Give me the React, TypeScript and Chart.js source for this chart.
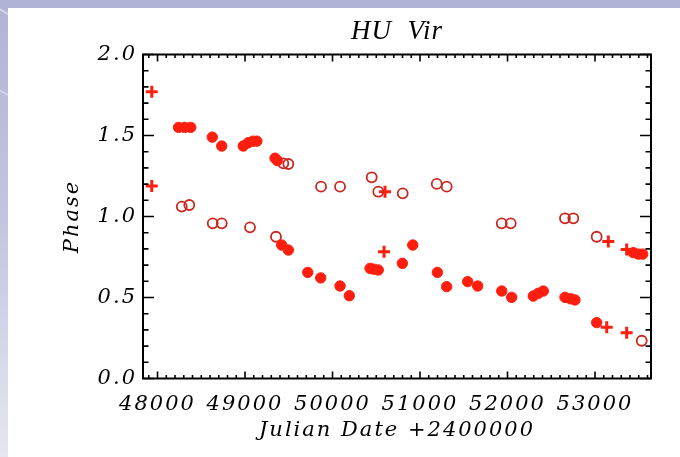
import React, { useEffect, useRef } from 'react';
import { Chart, registerables } from 'chart.js';

Chart.register(...registerables);

// ---- data (Julian Date - 2400000, phase) ----
const filledX = [48240, 48310, 48380, 48626, 48734, 48980, 49035, 49090, 49135, 49343, 49370,
  49419, 49495, 49717, 49865, 50086, 50192, 50429, 50470, 50523, 50798, 50917, 51198, 51305,
  51545, 51659, 51934, 52048, 52295, 52352, 52409, 52657, 52720, 52771, 53019, 53438, 53495, 53545];
const filledY = [1.55, 1.55, 1.55, 1.49, 1.435, 1.435, 1.455, 1.465, 1.465, 1.36, 1.345,
  0.824, 0.793, 0.655, 0.621, 0.571, 0.511, 0.68, 0.675, 0.67, 0.711, 0.824, 0.655, 0.567,
  0.598, 0.571, 0.54, 0.501, 0.509, 0.526, 0.54, 0.501, 0.492, 0.485, 0.345, 0.777, 0.768, 0.768];

const openX = [48277, 48363, 48631, 48734, 49057, 49354, 49438, 49495, 49869, 50086, 50448, 50523,
  50802, 51191, 51305, 51934, 52037, 52657, 52752, 53019, 53534];
const openY = [1.061, 1.071, 0.958, 0.958, 0.933, 0.875, 1.328, 1.324, 1.184, 1.184, 1.242, 1.153,
  1.143, 1.201, 1.184, 0.958, 0.958, 0.989, 0.989, 0.875, 0.233];

const plusX = [47934, 47934, 50600, 50589, 53152, 53134, 53362, 53362];
const plusY = [1.77, 1.188, 1.153, 0.783, 0.845, 0.316, 0.797, 0.283];

const xTickValues = [48000, 49000, 50000, 51000, 52000, 53000];
const xTickLabels = ['48000', '49000', '50000', '51000', '52000', '53000'];
const yTickValues = [0, 0.5, 1.0, 1.5, 2.0];
const yTickLabels = ['0.0', '0.5', '1.0', '1.5', '2.0'];

const TITLE = 'HU  Vir';
const X_TITLE = 'Julian Date +2400000';
const Y_TITLE = 'Phase';

const X_MIN = 47834;
const X_MAX = 53640;
const Y_MIN = 0;
const Y_MAX = 2;
const X_MINOR = 100;
const X_MAJOR = 1000;
const Y_MINOR = 0.1;
const Y_MINOR_PER_MAJOR = 5;

const RED = '#ff1e0e';
const DARK_RED = '#c8281e';
const AXIS_FONT = { family: '"DejaVu Serif"', style: 'italic' as const, size: 21 };

const toPts = (xs: number[], ys: number[]) => xs.map((x, i) => ({ x, y: ys[i] }));

const idlAxes = {
  id: 'idlAxes',
  beforeUpdate(chart: any) {
    chart.ctx.letterSpacing = '2px';
  },
  beforeDraw(chart: any) {
    chart.ctx.letterSpacing = '2px';
  },
  afterDraw(chart: any) {
    const { ctx, chartArea: a, scales } = chart;
    const xs = scales.x;
    const ys = scales.y;
    ctx.save();
    ctx.strokeStyle = '#000';
    ctx.lineWidth = 1.6;
    ctx.beginPath();
    const start = Math.ceil(X_MIN / X_MINOR);
    const end = Math.floor(X_MAX / X_MINOR);
    for (let k = start; k <= end; k++) {
      const v = k * X_MINOR;
      const px = xs.getPixelForValue(v);
      const major = v % X_MAJOR === 0;
      const len = major ? 7 : 3.5;
      ctx.moveTo(px, a.bottom);
      ctx.lineTo(px, a.bottom - len);
      ctx.moveTo(px, a.top);
      ctx.lineTo(px, a.top + len);
    }
    const nY = Math.round((Y_MAX - Y_MIN) / Y_MINOR);
    for (let i = 0; i <= nY; i++) {
      const v = Y_MIN + i * Y_MINOR;
      const py = ys.getPixelForValue(v);
      const major = i % Y_MINOR_PER_MAJOR === 0;
      const len = major ? 11 : 5.5;
      ctx.moveTo(a.left, py);
      ctx.lineTo(a.left + len, py);
      ctx.moveTo(a.right, py);
      ctx.lineTo(a.right - len, py);
    }
    ctx.stroke();
    ctx.lineWidth = 2;
    ctx.strokeRect(a.left, a.top, a.right - a.left, a.bottom - a.top);

    ctx.letterSpacing = '1px';
    ctx.fillStyle = '#000';
    ctx.font = 'italic 27px "Liberation Serif"';
    ctx.textAlign = 'center';
    ctx.textBaseline = 'middle';
    ctx.fillText(TITLE, (a.left + a.right) / 2, 32);
    ctx.restore();
  },
};

export default function App() {
  const canvasRef = useRef<HTMLCanvasElement | null>(null);

  useEffect(() => {
    const canvas = canvasRef.current;
    if (!canvas) return;
    const chart = new Chart(canvas, {
      type: 'scatter',
      data: {
        datasets: [
          {
            label: 'filled',
            data: toPts(filledX, filledY),
            pointStyle: 'circle',
            pointRadius: 5.2,
            backgroundColor: RED,
            borderColor: RED,
            borderWidth: 1,
          },
          {
            label: 'open',
            data: toPts(openX, openY),
            pointStyle: 'circle',
            pointRadius: 5,
            backgroundColor: 'rgba(255,255,255,0)',
            borderColor: DARK_RED,
            borderWidth: 1.8,
          },
          {
            label: 'plus',
            data: toPts(plusX, plusY),
            pointStyle: 'cross',
            pointRadius: 6,
            backgroundColor: RED,
            borderColor: RED,
            borderWidth: 3,
          },
        ],
      },
      options: {
        responsive: false,
        animation: false,
        events: [],
        layout: { padding: { left: 0, right: 29, top: 54.5, bottom: 0 } },
        plugins: {
          legend: { display: false },
          tooltip: { enabled: false },
          title: { display: false },
        },
        scales: {
          x: {
            type: 'linear',
            min: X_MIN,
            max: X_MAX,
            afterFit: (s: any) => {
              s.height = 78.5;
            },
            afterBuildTicks: (s: any) => {
              s.ticks = xTickValues.map((value) => ({ value }));
            },
            ticks: {
              autoSkip: false,
              maxRotation: 0,
              padding: 13,
              color: '#000',
              font: AXIS_FONT,
              callback: (v: any) => xTickLabels[xTickValues.indexOf(Number(v))] ?? '',
            },
            grid: { display: false, drawTicks: false },
            border: { display: false },
            title: {
              display: true,
              text: X_TITLE,
              color: '#000',
              font: AXIS_FONT,
              padding: { top: 0, bottom: 14 },
            },
          },
          y: {
            type: 'linear',
            min: Y_MIN,
            max: Y_MAX,
            afterFit: (s: any) => {
              s.width = 143;
            },
            afterBuildTicks: (s: any) => {
              s.ticks = yTickValues.map((value) => ({ value }));
            },
            ticks: {
              autoSkip: false,
              padding: 6,
              color: '#000',
              font: AXIS_FONT,
              callback: (v: any) => {
                const i = yTickValues.findIndex((t) => Math.abs(t - Number(v)) < 1e-9);
                return i >= 0 ? yTickLabels[i] : '';
              },
            },
            grid: { display: false, drawTicks: false },
            border: { display: false },
            title: {
              display: true,
              text: Y_TITLE,
              color: '#000',
              font: AXIS_FONT,
              padding: { top: 60, bottom: 0 },
            },
          },
        },
      },
      plugins: [idlAxes],
    } as any);
    return () => chart.destroy();
  }, []);

  return (
    <div
      style={{
        position: 'fixed',
        left: 0,
        top: 0,
        width: 680,
        height: 457,
        overflow: 'hidden',
        background: 'linear-gradient(to bottom, #b0b3d6 0%, #c4c6e0 50%, #e6e6f0 100%)',
      }}
    >
      <div style={{ position: 'absolute', left: -40, top: 20, width: 120, height: 2, background: 'rgba(255,255,255,0.45)', transform: 'rotate(30deg)' }} />
      <div style={{ position: 'absolute', left: -30, top: 95, width: 80, height: 2, background: 'rgba(255,255,255,0.35)', transform: 'rotate(28deg)' }} />
      <div style={{ position: 'absolute', left: 8, top: 8, right: 0, bottom: 0, background: '#ffffff' }} />
      <canvas
        ref={canvasRef}
        width={680}
        height={457}
        style={{ position: 'absolute', left: 0, top: 0, width: 680, height: 457 }}
      />
    </div>
  );
}
